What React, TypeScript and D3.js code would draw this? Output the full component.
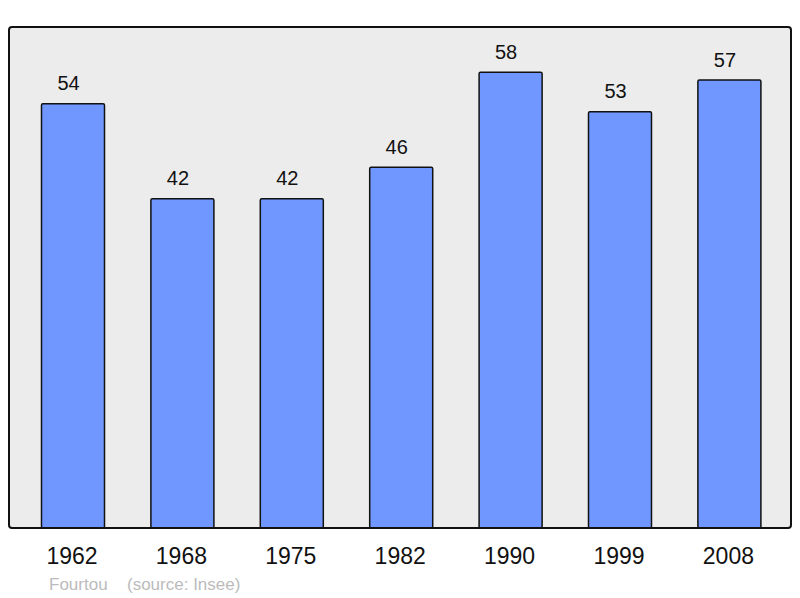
import React from "react";
import * as d3 from "d3";

// population per census year
const years = ["1962", "1968", "1975", "1982", "1990", "1999", "2008"];
const population = [54, 42, 42, 46, 58, 53, 57];
const placeName = "Fourtou";
const sourceText = "(source: Insee)";

const W = 800;
const H = 598;
const panel = { left: 9, top: 27, right: 791, bottom: 528 };

export default function App() {
  const x = d3
    .scaleBand<string>()
    .domain(years)
    .range([18.3, 784.1])
    .paddingInner(0.424)
    .paddingOuter(0.212);

  const y = d3.scaleLinear().domain([0, 60]).range([531.5, 56.3]);

  const font = "'Liberation Sans', Arial, sans-serif";

  return (
    <svg
      width={W}
      height={H}
      style={{ position: "absolute", left: 0, top: 0 }}
      fontFamily={font}
    >
      <rect x={0} y={0} width={W} height={H} fill="#ffffff" />
      <rect
        x={panel.left}
        y={panel.top}
        width={panel.right - panel.left}
        height={panel.bottom - panel.top}
        fill="#ececec"
        rx={3}
      />
      {population.map((v, i) => {
        const bx = x(years[i])!;
        const cx = bx + x.bandwidth() / 2;
        return (
          <g key={years[i]}>
            <rect
              x={bx}
              y={y(v)}
              width={x.bandwidth()}
              height={panel.bottom - y(v)}
              fill="#7096ff"
              stroke="#111"
              strokeWidth={1.5}
              rx={1.5}
            />
            <text
              x={cx - 4.5}
              y={y(v) - 13.5}
              textAnchor="middle"
              fontSize={20}
              fill="#111"
            >
              {v}
            </text>
            <text x={cx - 1} y={564} textAnchor="middle" fontSize={23} fill="#111">
              {years[i]}
            </text>
          </g>
        );
      })}
      <rect
        x={panel.left}
        y={panel.top}
        width={panel.right - panel.left}
        height={panel.bottom - panel.top}
        fill="none"
        stroke="#111"
        strokeWidth={2}
        rx={3}
      />
      <text x={49} y={590} fontSize={17} fill="#bbbbbb">
        {placeName}
      </text>
      <text x={127} y={590} fontSize={17} fill="#bbbbbb">
        {sourceText}
      </text>
    </svg>
  );
}
